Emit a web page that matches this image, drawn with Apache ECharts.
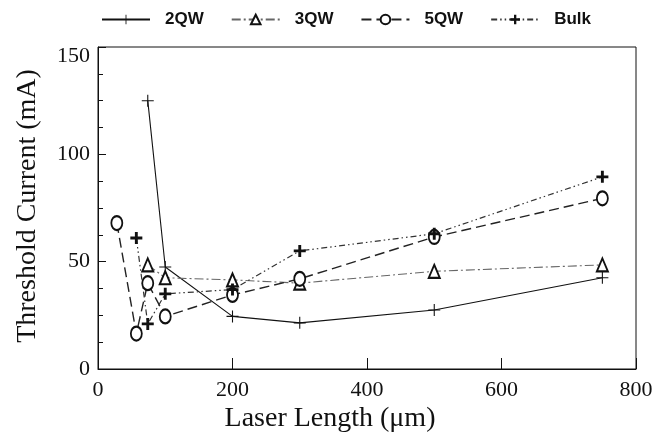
<!DOCTYPE html>
<html>
<head>
<meta charset="utf-8">
<script src="https://cdn.jsdelivr.net/npm/echarts@6/dist/echarts.min.js"></script>
<style>html,body{margin:0;padding:0;background:#fff}#c{width:660px;height:443px}</style>
</head>
<body>
<div id="c"></div>
<script>
var seriesNames = ['2QW', '3QW', '5QW', 'Bulk'];
var x2QW = [74, 100, 200, 300, 500, 750];
var y2QW = [125, 47.5, 24.5, 21.5, 27.5, 42.5];
var x3QW = [74, 100, 200, 300, 500, 750];
var y3QW = [48.5, 42.5, 41.5, 40, 45.5, 48.5];
var x5QW = [28, 57, 74, 100, 200, 300, 500, 750];
var y5QW = [68, 16.5, 40, 24.5, 34.5, 42, 61.5, 79.5];
var xBulk = [57, 74, 100, 200, 300, 500, 750];
var yBulk = [61, 21, 35, 37, 55, 63, 89.5];
var xTicks = [0, 200, 400, 600, 800];
var yTicks = [0, 50, 100, 150];
var xTitle = 'Laser Length (\u03bcm)';
var yTitle = 'Threshold Current (mA)';

function pairs(xs, ys) { return xs.map(function (x, i) { return [x, ys[i]]; }); }

var thinPlus = 'path://M-0.09,-1L0.09,-1L0.09,-0.09L1,-0.09L1,0.09L0.09,0.09L0.09,1L-0.09,1L-0.09,0.09L-1,0.09L-1,-0.09L-0.09,-0.09Z';
var boldPlus = 'path://M-0.24,-1L0.24,-1L0.24,-0.24L1,-0.24L1,0.24L0.24,0.24L0.24,1L-0.24,1L-0.24,0.24L-1,0.24L-1,-0.24L-0.24,-0.24Z';
var serif = 'Liberation Serif';

var chart = echarts.init(document.getElementById('c'), null, {renderer: 'canvas'});
chart.setOption({
  animation: false,
  backgroundColor: '#fff',
  grid: {left: 98, right: 24, top: 47, bottom: 74, outerBoundsMode: 'none', containLabel: false,
         show: true, borderColor: '#111', borderWidth: 1, backgroundColor: 'transparent'},
  legend: {
    top: 6, left: 96, itemWidth: 48, itemHeight: 12, itemGap: 27,
    data: seriesNames,
    textStyle: {fontFamily: 'Liberation Sans', fontSize: 17, fontWeight: 'bold', color: '#111', padding: [0, 0, 0, 10]}
  },
  xAxis: {
    type: 'value', min: 0, max: 800, interval: 200,
    axisLine: {show: true, lineStyle: {color: '#111', width: 1}},
    axisTick: {show: true, inside: true, length: 11, lineStyle: {color: '#111'}},
    minorTick: {show: false},
    splitLine: {show: false},
    axisLabel: {fontFamily: serif, fontSize: 22, color: '#111', margin: 10,
      formatter: function (v) { return xTicks.indexOf(v) >= 0 ? String(v) : ''; }}
  },
  yAxis: {
    type: 'value', min: 0, max: 150, interval: 50,
    axisLine: {show: true, lineStyle: {color: '#111', width: 1}},
    axisTick: {show: true, inside: true, length: 8, lineStyle: {color: '#111'}},
    minorTick: {show: true, splitNumber: 4, length: 5, lineStyle: {color: '#111'}},
    splitLine: {show: false},
    axisLabel: {fontFamily: serif, fontSize: 22, color: '#111', margin: 8,
      formatter: function (v) {
        if (yTicks.indexOf(v) < 0) return '';
        return v === yTicks[yTicks.length - 1] ? '{t|' + v + '}' : String(v);
      },
      rich: {t: {fontFamily: serif, fontSize: 22, color: '#111', padding: [19, 0, 0, 0]}}}
  },
  graphic: [
    {type: 'text', style: {text: xTitle, font: '28px "Liberation Serif"', fill: '#111', align: 'center', verticalAlign: 'middle', x: 330, y: 419}},
    {type: 'text', x: 28, y: 206, rotation: Math.PI / 2, style: {text: yTitle, font: '28px "Liberation Serif"', fill: '#111', align: 'center', verticalAlign: 'middle'}}
  ],
  series: [
    {name: '2QW', type: 'line', data: pairs(x2QW, y2QW), symbol: thinPlus, symbolSize: 12,
     lineStyle: {color: '#111', width: 1.1, type: 'solid'},
     itemStyle: {color: '#111'}},
    {name: '3QW', type: 'line', data: pairs(x3QW, y3QW), symbol: 'emptyTriangle', symbolSize: [11, 13],
     lineStyle: {color: '#666', width: 1.1, type: [9, 3, 2, 3]},
     itemStyle: {color: '#111', borderColor: '#111', borderWidth: 1}},
    {name: '5QW', type: 'line', data: pairs(x5QW, y5QW), symbol: 'emptyCircle', symbolSize: [11, 14],
     lineStyle: {color: '#222', width: 1.4, type: [10, 5]},
     itemStyle: {color: '#111', borderColor: '#111', borderWidth: 1}},
    {name: 'Bulk', type: 'line', data: pairs(xBulk, yBulk), symbol: boldPlus, symbolSize: 12,
     lineStyle: {color: '#333', width: 1.2, type: [6, 3, 1.5, 3, 1.5, 3]},
     itemStyle: {color: '#111'}}
  ]
});
</script>
</body>
</html>
